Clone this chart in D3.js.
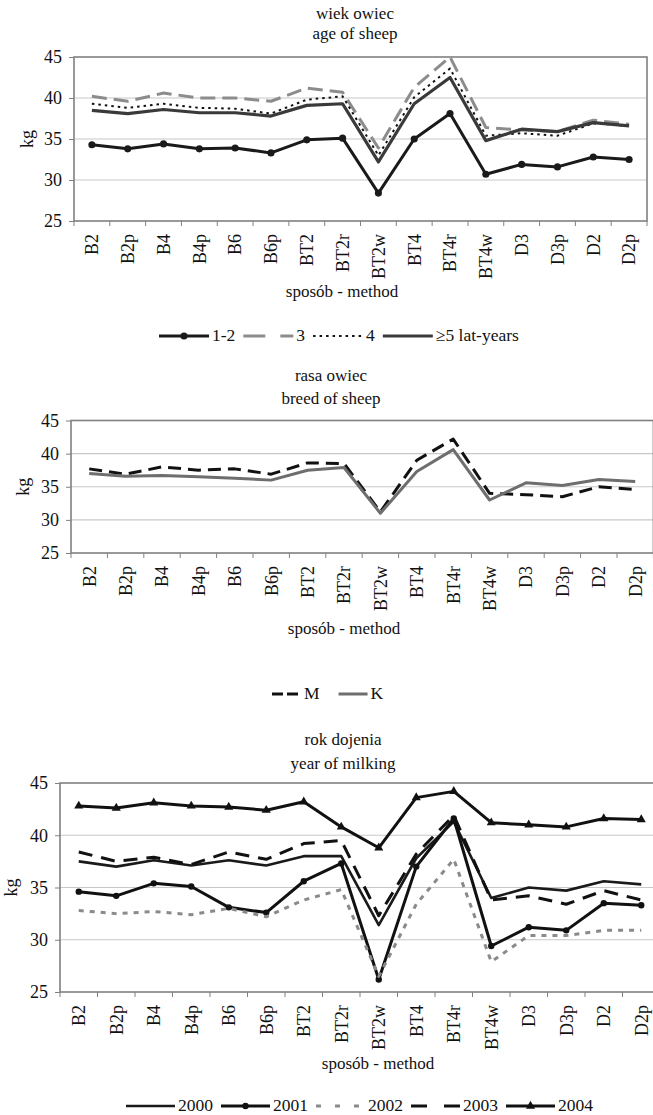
<!DOCTYPE html>
<html>
<head>
<meta charset="utf-8">
<style>
  body { margin: 0; background: #fff; }
  svg { display: block; }
  text { font-family: 'Liberation Serif', 'Times New Roman', serif; font-size: 17px; fill: #111; }
  .tick-label { font-size: 18px; }
  .legend-label { font-size: 17.5px; }
</style>
</head>
<body>
<script src="https://cdn.jsdelivr.net/npm/d3@7/dist/d3.min.js"></script>
<script>

var methods = ['B2', 'B2p', 'B4', 'B4p', 'B6', 'B6p', 'BT2', 'BT2r', 'BT2w', 'BT4', 'BT4r', 'BT4w', 'D3', 'D3p', 'D2', 'D2p'];
var yTicks = [25, 30, 35, 40, 45];

// wiek owiec - age of sheep
var ageNames = ['1-2', '3', '4', '≥5 lat-years'];
var age12 = [34.3, 33.8, 34.4, 33.8, 33.9, 33.3, 34.9, 35.1, 28.4, 35.0, 38.1, 30.7, 31.9, 31.6, 32.8, 32.5];
var age3 = [40.2, 39.6, 40.6, 40.0, 40.0, 39.6, 41.2, 40.7, 33.9, 41.3, 45.0, 36.4, 36.1, 35.9, 37.3, 36.8];
var age4 = [39.3, 38.8, 39.3, 38.8, 38.7, 38.1, 39.8, 40.2, 33.0, 40.1, 43.6, 35.4, 35.7, 35.4, 36.9, 36.6];
var age5 = [38.5, 38.1, 38.6, 38.2, 38.2, 37.8, 39.1, 39.3, 32.2, 39.3, 42.5, 34.8, 36.2, 35.9, 37.0, 36.6];

// rasa owiec - breed of sheep
var breedNames = ['M', 'K'];
var breedM = [37.7, 36.9, 38.0, 37.5, 37.7, 36.9, 38.6, 38.5, 31.2, 39.0, 42.2, 34.0, 33.8, 33.5, 35.0, 34.6];
var breedK = [37.0, 36.6, 36.7, 36.5, 36.3, 36.0, 37.5, 37.9, 31.0, 37.3, 40.6, 33.0, 35.6, 35.2, 36.1, 35.8];

// rok dojenia - year of milking
var yearNames = ['2000', '2001', '2002', '2003', '2004'];
var y2000 = [37.5, 37.0, 37.6, 37.1, 37.6, 37.1, 38.0, 38.0, 31.4, 37.8, 41.3, 34.0, 35.0, 34.7, 35.6, 35.3];
var y2001 = [34.6, 34.2, 35.4, 35.1, 33.1, 32.6, 35.6, 37.3, 26.2, 37.0, 41.6, 29.4, 31.2, 30.9, 33.5, 33.3];
var y2002 = [32.8, 32.5, 32.7, 32.4, 33.0, 32.2, 33.8, 34.8, 26.5, 33.4, 37.7, 27.9, 30.4, 30.4, 30.9, 30.9];
var y2003 = [38.4, 37.5, 37.9, 37.2, 38.4, 37.7, 39.2, 39.5, 32.3, 38.2, 41.9, 33.8, 34.2, 33.4, 34.7, 33.8];
var y2004 = [42.8, 42.6, 43.1, 42.8, 42.7, 42.4, 43.2, 40.8, 38.8, 43.6, 44.2, 41.2, 41.0, 40.8, 41.6, 41.5];

var width = 653;
var height = 1115;

var svg = d3.select('body').append('svg')
  .attr('width', width)
  .attr('height', height);

svg.append('rect').attr('width', width).attr('height', height).attr('fill', '#fff');

function drawChart (o) {
  var g = svg.append('g');
  var x = d3.scaleBand().domain(methods).range([o.left, o.right]);
  var y = d3.scaleLinear().domain([25, 45]).range([o.bottom, o.top]);

  // titles
  o.title.forEach(function (t, i) {
    g.append('text').attr('x', o.titleX).attr('y', o.titleY[i])
      .attr('text-anchor', 'middle').text(t);
  });

  // gridlines
  g.append('g').selectAll('line')
    .data(yTicks.slice(1, -1))
    .enter().append('line')
    .attr('x1', o.left).attr('x2', o.right)
    .attr('y1', y).attr('y2', y)
    .attr('stroke', '#c8c8c8').attr('stroke-width', 1.2);

  g.append('rect')
    .attr('x', o.left).attr('y', o.top)
    .attr('width', o.right - o.left).attr('height', o.bottom - o.top)
    .attr('fill', 'none').attr('stroke', '#808080').attr('stroke-width', 1.6);

  // y axis
  var ya = g.append('g')
    .attr('transform', 'translate(' + o.left + ',0)')
    .call(d3.axisLeft(y).tickValues(yTicks).tickSize(5).tickPadding(7));
  ya.attr('font-family', null).attr('font-size', null);
  ya.select('.domain').remove();
  ya.selectAll('.tick line').attr('stroke', '#808080');
  ya.selectAll('text').attr('fill', null).attr('class', 'tick-label');

  g.append('text')
    .attr('transform', 'translate(' + o.kgX + ',' + (o.top + o.bottom) / 2 + ') rotate(-90)')
    .attr('text-anchor', 'middle').attr('dy', '0.35em')
    .attr('class', 'tick-label')
    .text('kg');

  // x axis: ticks at category boundaries
  var edges = d3.range(methods.length + 1).map(function (i) { return o.left + i * x.step(); });
  g.append('g').selectAll('line')
    .data(edges)
    .enter().append('line')
    .attr('x1', function (d) { return d; }).attr('x2', function (d) { return d; })
    .attr('y1', o.bottom).attr('y2', o.bottom + 5)
    .attr('stroke', '#808080');

  g.append('g').selectAll('text')
    .data(methods)
    .enter().append('text')
    .attr('class', 'tick-label')
    .attr('transform', function (d) {
      return 'translate(' + (x(d) + x.bandwidth() / 2) + ',' + (o.bottom + 13) + ') rotate(-90)';
    })
    .attr('text-anchor', 'end').attr('dy', '0.35em')
    .text(function (d) { return d; });

  g.append('text').attr('x', o.axisTitleX).attr('y', o.axisTitleY)
    .attr('text-anchor', 'middle').text('sposób - method');

  // series
  var line = d3.line()
    .x(function (d, i) { return x(methods[i]) + x.bandwidth() / 2; })
    .y(function (d) { return y(d); });

  o.series.forEach(function (s) {
    g.append('path')
      .datum(s.values)
      .attr('d', line)
      .attr('fill', 'none')
      .attr('stroke', s.color)
      .attr('stroke-width', s.width)
      .attr('stroke-dasharray', s.dash || null)
      .attr('stroke-linejoin', 'round');
    if (s.marker) {
      g.append('g').selectAll('path')
        .data(s.values)
        .enter().append('path')
        .attr('transform', function (d, i) {
          return 'translate(' + (x(methods[i]) + x.bandwidth() / 2) + ',' + y(d) + ')';
        })
        .attr('d', d3.symbol(s.marker === 'circle' ? d3.symbolCircle : d3.symbolTriangle, s.markerSize)())
        .attr('fill', s.color);
    }
  });

  // legend
  var lx = o.legendX;
  o.series.forEach(function (s) {
    var ly = o.legendY - 5;
    g.append('line')
      .attr('x1', lx).attr('x2', lx + o.legendLine)
      .attr('y1', ly).attr('y2', ly)
      .attr('stroke', s.color).attr('stroke-width', s.width)
      .attr('stroke-dasharray', s.legendDash || s.dash || null);
    if (s.marker) {
      g.append('path')
        .attr('transform', 'translate(' + (lx + o.legendLine / 2) + ',' + ly + ')')
        .attr('d', d3.symbol(s.marker === 'circle' ? d3.symbolCircle : d3.symbolTriangle, s.markerSize)())
        .attr('fill', s.color);
    }
    var t = g.append('text').attr('class', 'legend-label')
      .attr('x', lx + o.legendLine + 3).attr('y', o.legendY).text(s.name);
    lx += o.legendLine + 3 + t.node().getComputedTextLength() + o.legendGap;
  });
}

drawChart({
  left: 74, right: 647, top: 57, bottom: 221,
  title: ['wiek owiec', 'age of sheep'], titleX: 355, titleY: [19, 39],
  kgX: 27, axisTitleX: 342, axisTitleY: 297,
  legendX: 159, legendY: 341, legendLine: 50, legendGap: 8,
  series: [
    { name: ageNames[0], values: age12, color: '#1a1a1a', width: 3, marker: 'circle', markerSize: 40 },
    { name: ageNames[1], values: age3, color: '#8c8c8c', width: 3, dash: '15,7', legendDash: '22,15' },
    { name: ageNames[2], values: age4, color: '#111', width: 2, dash: '2.5,4' },
    { name: ageNames[3], values: age5, color: '#3a3a3a', width: 3.2 }
  ]
});

drawChart({
  left: 71, right: 653.4, top: 420.5, bottom: 553,
  title: ['rasa owiec', 'breed of sheep'], titleX: 331, titleY: [381, 404],
  kgX: 23, axisTitleX: 344, axisTitleY: 634,
  legendX: 272, legendY: 699, legendLine: 29, legendGap: 19,
  series: [
    { name: breedNames[0], values: breedM, color: '#111', width: 3, dash: '13,7', legendDash: '11,4' },
    { name: breedNames[1], values: breedK, color: '#6e6e6e', width: 3 }
  ]
});

drawChart({
  left: 60, right: 660, top: 783, bottom: 992,
  title: ['rok dojenia', 'year of milking'], titleX: 343, titleY: [745, 769],
  kgX: 11, axisTitleX: 378, axisTitleY: 1069,
  legendX: 126, legendY: 1111, legendLine: 49, legendGap: 8,
  series: [
    { name: yearNames[0], values: y2000, color: '#1a1a1a', width: 2.6 },
    { name: yearNames[1], values: y2001, color: '#111', width: 3, marker: 'circle', markerSize: 32 },
    { name: yearNames[2], values: y2002, color: '#8a8a8a', width: 3, dash: '5,6', legendDash: '5,14' },
    { name: yearNames[3], values: y2003, color: '#111', width: 3, dash: '14,9', legendDash: '16,17' },
    { name: yearNames[4], values: y2004, color: '#111', width: 3, marker: 'triangle', markerSize: 36 }
  ]
});

</script>
</body>
</html>
